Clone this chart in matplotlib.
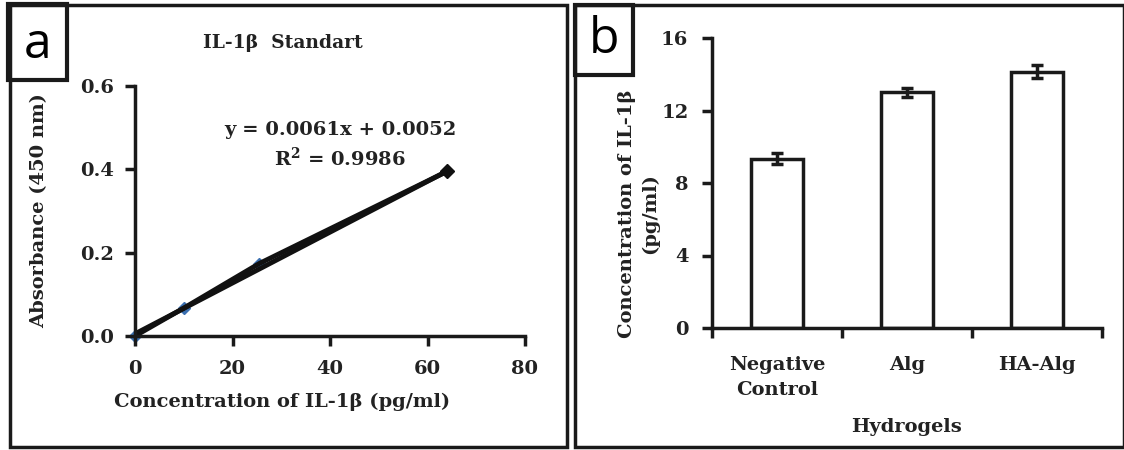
import matplotlib
matplotlib.use("Agg")
import matplotlib.pyplot as plt
from matplotlib.patches import Rectangle
import numpy as np

# panel a: standard curve
conc = [0, 10, 25.5, 64]
absorb = [0.0, 0.067, 0.174, 0.395]
slope = 0.0061
intercept = 0.0052

# panel b: bars
groups = ["Negative\nControl", "Alg", "HA-Alg"]
values = [9.35, 13.0, 14.15]
errors = [0.3, 0.25, 0.35]

W, H = 1124, 450
SERIF = "DejaVu Serif"
FS = 14
INK = '#1a1a1a'
TXT = '#222222'
plt.rcParams['font.family'] = SERIF
plt.rcParams['font.weight'] = 'bold'
plt.rcParams['mathtext.fontset'] = 'dejavuserif'

fig = plt.figure(figsize=(W / 100, H / 100), dpi=100)


def fbox(x0, y0, x1, y1, lw=2.5):
    # rectangle in pixel coords (top-left origin)
    r = Rectangle((x0 / W, 1 - y1 / H), (x1 - x0) / W, (y1 - y0) / H,
                  transform=fig.transFigure, fill=False, edgecolor=INK,
                  linewidth=lw, zorder=5)
    fig.patches.append(r)


def axes_px(left, right, top, bottom):
    return fig.add_axes([left / W, 1 - bottom / H, (right - left) / W, (bottom - top) / H])


def style(ax):
    for s in ['top', 'right']:
        ax.spines[s].set_visible(False)
    for s in ['left', 'bottom']:
        ax.spines[s].set_linewidth(2.5)
        ax.spines[s].set_color(INK)
    ax.tick_params(direction='out', length=7, width=2.5, color=INK,
                   labelsize=FS, pad=6)
    for lab in ax.get_xticklabels() + ax.get_yticklabels():
        lab.set_fontweight('bold')
        lab.set_color(TXT)


# outer boxes
fbox(10, 5, 567, 447)
fbox(575, 5, 1124, 447)
fbox(8, 4, 67, 80, lw=3)
fbox(575, 5, 633, 75, lw=3)
fig.text(38 / W, 1 - 45 / H, "a", family="Open Sans", fontweight='normal',
         fontsize=36, ha='center', va='center')
fig.text(604 / W, 1 - 40 / H, "b", family="Open Sans", fontweight='normal',
         fontsize=36, ha='center', va='center')

# ---- panel a ----
ax1 = axes_px(135, 525, 86, 336)
xs = np.array([0, max(conc)])
ax1.plot(conc[:-1], absorb[:-1], 'D', color='#3a6fb0', markersize=6,
         zorder=1, clip_on=False)
ax1.plot(conc, absorb, '-', color='#111111', linewidth=3.5, zorder=2)
ax1.plot(xs, slope * xs + intercept, color='#111111', linewidth=3.5, zorder=2)
ax1.plot(conc[-1:], absorb[-1:], 'D', color='#111111', markersize=7, zorder=3)
ax1.set_xlim(0, 80)
ax1.set_ylim(0, 0.6)
ax1.set_xticks([0, 20, 40, 60, 80])
ax1.set_yticks([0, 0.2, 0.4, 0.6])
ax1.set_yticklabels(["0.0", "0.2", "0.4", "0.6"])
style(ax1)
ax1.tick_params(axis='x', pad=10)
ax1.tick_params(axis='y', pad=8)
ax1.set_xlabel("Concentration of IL-1β (pg/ml)", fontsize=FS, fontweight='bold',
               color=TXT)
ax1.xaxis.set_label_coords((282 - 135) / 390, -(402 - 336) / 250)
ax1.xaxis.label.set_va('center')
ax1.set_ylabel("Absorbance (450 nm)", fontsize=FS, fontweight='bold', color=TXT)
ax1.yaxis.set_label_coords(-(135 - 39) / 390, 0.5)
ax1.yaxis.label.set_va('center')
fig.text(283 / W, 1 - 43 / H, "IL-1β  Standart", fontsize=13.5, fontweight='bold',
         color=TXT, ha='center', va='center')
fig.text(340 / W, 1 - 130 / H, "y = 0.0061x + 0.0052", fontsize=FS,
         fontweight='bold', color=TXT, ha='center', va='center')
fig.text(340 / W, 1 - 158 / H, "R$^\\mathbf{2}$ = 0.9986", fontsize=FS,
         fontweight='bold', color=TXT, ha='center', va='center')

# ---- panel b ----
ax2 = axes_px(712, 1102, 38, 328)
pos = np.arange(len(groups))
ax2.bar(pos, values, width=0.4, color='white', edgecolor=INK,
        linewidth=2.5, yerr=errors, capsize=4,
        error_kw=dict(ecolor=INK, elinewidth=2.5, capthick=2.5))
ax2.set_xlim(-0.5, 2.5)
ax2.set_ylim(0, 16)
ax2.set_yticks([0, 4, 8, 12, 16])
ax2.set_xticks(pos)
ax2.set_xticklabels(groups, linespacing=1.55)
ax2.set_xticks([-0.5, 0.5, 1.5, 2.5], minor=True)
style(ax2)
ax2.tick_params(axis='y', pad=10)
ax2.tick_params(axis='x', which='major', length=0, pad=20)
ax2.tick_params(axis='x', which='minor', direction='out', length=7, width=2.5,
                color=INK)
ax2.set_xlabel("Hydrogels", fontsize=FS, fontweight='bold', color=TXT)
ax2.xaxis.set_label_coords(0.5, -(427 - 328) / 290)
ax2.xaxis.label.set_va('center')
ax2.set_ylabel("Concentration of IL-1β\n(pg/ml)", fontsize=FS,
               fontweight='bold', color=TXT, linespacing=1.35)
ax2.yaxis.set_label_coords(-(712 - 639) / 390, (328 - 214) / 290)
ax2.yaxis.label.set_va('center')

fig.savefig("out.png", dpi=100)
